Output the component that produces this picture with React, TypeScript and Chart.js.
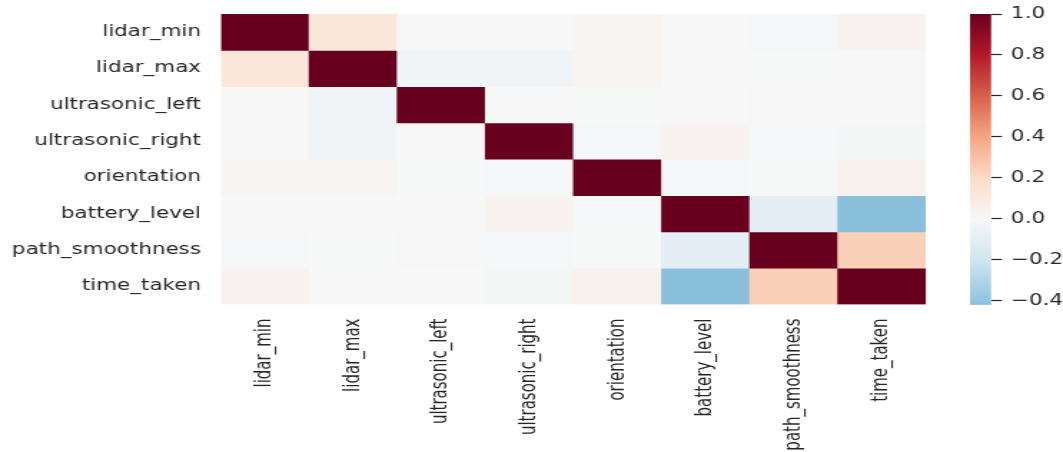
import React, { useEffect, useRef } from "react";
import { Chart, registerables } from "chart.js";

Chart.register(...registerables);

// Feature names, used for both the rows and the columns of the matrix
const features = [
  "lidar_min",
  "lidar_max",
  "ultrasonic_left",
  "ultrasonic_right",
  "orientation",
  "battery_level",
  "path_smoothness",
  "time_taken",
];

// Pearson correlation of each feature with every feature (same order as above)
const lidarMinCorr = [1.0, 0.12, 0.0, 0.0, 0.02, 0.0, -0.01, 0.03];
const lidarMaxCorr = [0.12, 1.0, -0.03, -0.03, 0.02, 0.0, -0.005, 0.0];
const ultrasonicLeftCorr = [0.0, -0.03, 1.0, 0.0, -0.005, 0.0, 0.005, 0.0];
const ultrasonicRightCorr = [0.0, -0.03, 0.0, 1.0, -0.01, 0.03, -0.01, -0.015];
const orientationCorr = [0.02, 0.02, -0.005, -0.01, 1.0, -0.01, -0.005, 0.04];
const batteryLevelCorr = [0.0, 0.0, 0.0, 0.03, -0.01, 1.0, -0.1, -0.419];
const pathSmoothnessCorr = [-0.01, -0.005, 0.005, -0.01, -0.005, -0.1, 1.0, 0.24];
const timeTakenCorr = [0.03, 0.0, 0.0, -0.015, 0.04, -0.419, 0.24, 1.0];

const correlations = [
  lidarMinCorr,
  lidarMaxCorr,
  ultrasonicLeftCorr,
  ultrasonicRightCorr,
  orientationCorr,
  batteryLevelCorr,
  pathSmoothnessCorr,
  timeTakenCorr,
];

// Colour bar tick values
const colorbarTicks = [-0.4, -0.2, 0.0, 0.2, 0.4, 0.6, 0.8, 1.0];

// Colour range follows the data, diverging around zero
const vMin = Math.min(...correlations.flat());
const vMax = Math.max(...correlations.flat());

// Reversed RdBu diverging palette (ColorBrewer, 11 stops)
const rdbuR: number[][] = [
  [5, 48, 97],
  [33, 102, 172],
  [67, 147, 195],
  [146, 197, 222],
  [209, 229, 240],
  [247, 247, 247],
  [253, 219, 199],
  [244, 165, 130],
  [214, 96, 77],
  [178, 24, 43],
  [103, 0, 31],
];

function colorFor(v: number): string {
  const clamped = Math.min(vMax, Math.max(vMin, v));
  // centred on 0 with a symmetric range of ±1
  const p = Math.min(1, Math.max(0, 0.5 + clamped / 2));
  const pos = p * (rdbuR.length - 1);
  const i = Math.min(Math.floor(pos), rdbuR.length - 2);
  const t = pos - i;
  const a = rdbuR[i];
  const b = rdbuR[i + 1];
  const c = a.map((x, k) => Math.round(x + (b[k] - x) * t));
  return `rgb(${c[0]}, ${c[1]}, ${c[2]})`;
}

function formatBarTick(v: number): string {
  const r = Math.round(v * 10) / 10;
  return (r < 0 ? "\u2212" : "") + Math.abs(r).toFixed(1);
}

// Drawing surface is laid out narrower and widened on screen
const CANVAS_W = 743;
const CANVAS_H = 452;
const DISPLAY_W = 1063;

const TEXT_COLOR = "#262626";
const FONT = { family: "'DejaVu Sans', 'Liberation Sans', sans-serif", size: 15 };
const COLORBAR_W = 14.7;

// Keep tick labels from pushing the plot area around
function noEdgePadding(s: any) {
  s.paddingTop = 0;
  s.paddingBottom = 0;
  s.paddingLeft = 0;
  s.paddingRight = 0;
}

const colorbarPlugin = {
  id: "colorbar",
  afterDraw(chart: any) {
    const s = chart.scales.cbar;
    if (!s) return;
    const ctx = chart.ctx as CanvasRenderingContext2D;
    const left = s.left - COLORBAR_W;
    const top = s.top;
    const bottom = s.bottom;
    ctx.save();
    for (let y = top; y < bottom; y += 1) {
      const h = Math.min(1, bottom - y);
      ctx.fillStyle = colorFor(s.getValueForPixel(y + h / 2));
      ctx.fillRect(left, y, COLORBAR_W, h + 0.3);
    }
    ctx.restore();
  },
};

export default function App() {
  const canvasRef = useRef<HTMLCanvasElement | null>(null);

  useEffect(() => {
    const canvas = canvasRef.current;
    if (!canvas) return;

    const datasets = features.map((rowName, r) => ({
      label: rowName,
      data: features.map(() => [r, r + 1] as [number, number]),
      backgroundColor: correlations[r].map(colorFor),
      borderWidth: 0,
      barPercentage: 1,
      categoryPercentage: 1,
      grouped: false,
    }));

    const chart = new Chart(canvas, {
      type: "bar",
      data: { labels: features, datasets },
      plugins: [colorbarPlugin],
      options: {
        animation: false,
        responsive: false,
        devicePixelRatio: 1,
        layout: { padding: { top: 14, left: 0, right: 0, bottom: 0 } },
        plugins: {
          legend: { display: false },
          tooltip: { enabled: false },
        },
        scales: {
          x: {
            type: "category",
            position: "bottom",
            offset: true,
            grid: { display: false, drawTicks: false },
            border: { display: false },
            ticks: {
              autoSkip: false,
              maxRotation: 90,
              minRotation: 90,
              padding: 14,
              color: TEXT_COLOR,
              font: FONT,
            },
            afterFit: (s: any) => {
              s.height = 147.5;
              noEdgePadding(s);
            },
          },
          y: {
            type: "linear",
            position: "left",
            min: 0,
            max: features.length,
            reverse: true,
            grid: { display: false, drawTicks: false },
            border: { display: false },
            ticks: {
              autoSkip: false,
              padding: 14,
              color: TEXT_COLOR,
              font: FONT,
              callback: (v: any) => features[Math.floor(Number(v))] ?? "",
            },
            afterBuildTicks: (s: any) => {
              s.ticks = features.map((_, i) => ({ value: i + 0.5 }));
            },
            afterFit: (s: any) => {
              s.width = 154.5;
              noEdgePadding(s);
            },
          },
          gap: {
            type: "linear",
            position: "right",
            weight: 0,
            grid: { display: false, drawTicks: false },
            border: { display: false },
            ticks: { display: false },
            afterFit: (s: any) => {
              s.width = 45.5;
              noEdgePadding(s);
            },
          },
          cbar: {
            type: "linear",
            position: "right",
            weight: 1,
            min: vMin,
            max: vMax,
            grid: {
              display: true,
              drawOnChartArea: false,
              drawTicks: true,
              tickLength: 7.6,
              tickColor: TEXT_COLOR,
              tickWidth: 1.2,
            },
            border: { display: false },
            ticks: {
              autoSkip: false,
              padding: 6.3,
              color: TEXT_COLOR,
              font: FONT,
              callback: (v: any) => formatBarTick(Number(v)),
            },
            afterBuildTicks: (s: any) => {
              s.ticks = colorbarTicks.map((value) => ({ value }));
            },
            afterFit: (s: any) => {
              s.width = 50.3;
              noEdgePadding(s);
            },
          },
        },
      } as any,
    });

    return () => {
      chart.destroy();
    };
  }, []);

  return (
    <div
      style={{
        position: "absolute",
        left: 0,
        top: 0,
        width: DISPLAY_W,
        height: CANVAS_H,
        background: "#ffffff",
      }}
    >
      <canvas
        ref={canvasRef}
        width={CANVAS_W}
        height={CANVAS_H}
        style={{ width: `${DISPLAY_W}px`, height: `${CANVAS_H}px`, display: "block" }}
      />
    </div>
  );
}
